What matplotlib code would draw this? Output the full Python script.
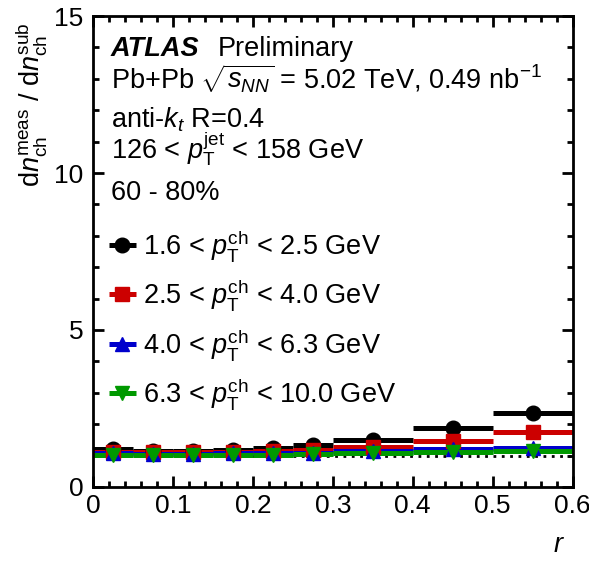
import numpy as np
import matplotlib
matplotlib.use("Agg")
import matplotlib.pyplot as plt
from matplotlib.ticker import MultipleLocator

plt.rcParams['font.family'] = ['Liberation Sans', 'DejaVu Sans']
plt.rcParams['mathtext.fontset'] = 'custom'
plt.rcParams['mathtext.rm'] = 'Liberation Sans'
plt.rcParams['mathtext.it'] = 'Liberation Sans:italic'
plt.rcParams['mathtext.bf'] = 'Liberation Sans:bold'

# bin edges in r
r_edges = [0.0, 0.05, 0.10, 0.15, 0.20, 0.25, 0.30, 0.40, 0.50, 0.60]

# ratio dn_meas / dn_sub for each pT^ch selection
ratio_16_25 = [1.20, 1.15, 1.15, 1.18, 1.23, 1.34, 1.50, 1.87, 2.37]
ratio_25_40 = [1.12, 1.10, 1.10, 1.11, 1.15, 1.18, 1.28, 1.45, 1.74]
ratio_40_63 = [1.07, 1.06, 1.06, 1.07, 1.08, 1.09, 1.16, 1.20, 1.24]
ratio_63_100 = [1.02, 1.02, 1.02, 1.03, 1.03, 1.04, 1.09, 1.12, 1.13]

labels = [
    r'1.6 < $p_{\rm T}^{\rm ch}$ < 2.5 GeV',
    r'2.5 < $p_{\rm T}^{\rm ch}$ < 4.0 GeV',
    r'4.0 < $p_{\rm T}^{\rm ch}$ < 6.3 GeV',
    r'6.3 < $p_{\rm T}^{\rm ch}$ < 10.0 GeV',
]

edges = np.array(r_edges)
centers = 0.5 * (edges[1:] + edges[:-1])
halfw = 0.5 * (edges[1:] - edges[:-1])

fig = plt.figure(figsize=(5.89, 5.62), dpi=100)
ax = fig.add_axes([0.158, 0.1335, 0.814, 0.838])

ax.axhline(1.0, color='black', ls=(0, (1, 2)), lw=2, zorder=1)

series = [ratio_16_25, ratio_25_40, ratio_40_63, ratio_63_100]
colors = ['black', '#cc0000', '#0000cc', '#009900']
markers = ['o', 's', '^', 'v']
for vals, c, m, lab in zip(series, colors, markers, labels):
    ax.errorbar(centers, vals, xerr=halfw, fmt=m, color=c, ms=10.5,
                elinewidth=3.6, capsize=0, label=lab, zorder=2)

ax.set_xlim(0, 0.6)
ax.set_ylim(0, 15)
ax.xaxis.set_major_locator(MultipleLocator(0.1))
ax.xaxis.set_minor_locator(MultipleLocator(0.02))
ax.yaxis.set_major_locator(MultipleLocator(5))
ax.yaxis.set_minor_locator(MultipleLocator(1))
ax.set_xticks([0, 0.1, 0.2, 0.3, 0.4, 0.5, 0.6])
ax.set_xticklabels(['0', '0.1', '0.2', '0.3', '0.4', '0.5', '0.6'])
ax.tick_params(which='both', direction='in', top=True, right=True,
               width=2, labelsize=19)
ax.tick_params(which='major', length=8)
ax.tick_params(which='minor', length=4)
ax.tick_params(axis='y', pad=7)
ax.tick_params(axis='x', pad=5)
for s in ax.spines.values():
    s.set_linewidth(2)

fs = 19.5
ax.text(0.0375, 0.915, 'ATLAS', transform=ax.transAxes, fontsize=fs,
        fontweight='bold', style='italic', va='baseline')
ax.text(0.26, 0.915, 'Preliminary', transform=ax.transAxes, fontsize=fs,
        va='baseline')
ax.text(0.0375, 0.847, r'Pb+Pb $\sqrt{s_{NN}}$ = 5.02 TeV, 0.49 nb$^{-1}$',
        transform=ax.transAxes, fontsize=fs, va='baseline')
ax.text(0.0375, 0.764, r'anti-$k_{t}$ R=0.4', transform=ax.transAxes,
        fontsize=fs, va='baseline')
ax.text(0.0375, 0.698, r'126 < $p_{\rm T}^{\rm jet}$ < 158 GeV',
        transform=ax.transAxes, fontsize=fs, va='baseline')
ax.text(0.0375, 0.609, '60 - 80%', transform=ax.transAxes, fontsize=fs,
        va='baseline')

ax.legend(loc='upper left', bbox_to_anchor=(-0.008, 0.585), frameon=False,
          fontsize=fs, handlelength=1.25, handletextpad=0.15,
          labelspacing=0.5, borderaxespad=0.2)

ax.text(-0.13, 0.985, r'd$n_{\rm ch}^{\rm meas}$ / d$n_{\rm ch}^{\rm sub}$',
        transform=ax.transAxes, fontsize=fs, rotation=90,
        ha='center', va='top')
ax.text(0.985, -0.138, r'$r$', transform=ax.transAxes, fontsize=fs,
        ha='right', va='baseline')

fig.savefig('out.png', dpi=100)
